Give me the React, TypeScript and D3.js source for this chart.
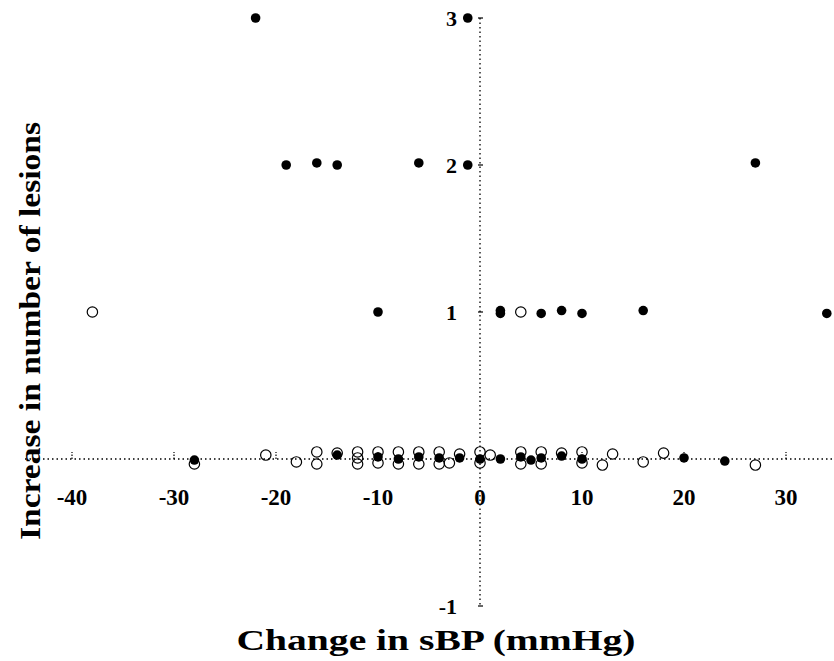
import React from "react";
import * as d3 from "d3";

const filledX = [-22, -1.2, -19, -16, -14, -6, -1.2, 27, -10, 2, 2, 6, 8, 10, 16, 34, -28, -14, -10, -8, -6, -4, -2, 0, 2, 4, 5, 6, 8, 10, 20, 24];
const filledY = [3, 3, 2, 2.014, 2, 2.014, 2, 2.014, 1, 1.01, 0.99, 0.99, 1.01, 0.99, 1.01, 0.99, -0.007, 0.027, 0.014, 0, 0.014, 0.007, 0.007, 0, 0, 0.014, -0.007, 0.007, 0.02, 0, 0.007, -0.014];
const openX = [-38, 4, -28, -21, -18, -16, -16, -14, -12, -12, -12, -10, -10, -8, -8, -6, -6, -4, -4, -3, -2, 0, 0, 1, 4, 4, 6, 6, 8, 10, 10, 12, 13, 16, 18, 27];
const openY = [1, 1, -0.034, 0.027, -0.02, 0.048, -0.034, 0.04, 0.048, 0.007, -0.034, 0.048, -0.027, 0.048, -0.034, 0.048, -0.034, 0.048, -0.034, -0.027, 0.034, 0.048, -0.027, 0.027, 0.048, -0.034, 0.048, -0.034, 0.04, 0.048, -0.027, -0.041, 0.034, -0.02, 0.04, -0.041];
const xTicks = [-40, -30, -20, -10, 0, 10, 20, 30];
const yTicks = [-1, 1, 2, 3];
const xTitle = "Change in sBP (mmHg)";
const yTitle = "Increase in number of lesions";

const W = 834, H = 661;
const FONT = "Liberation Serif";

export default function App() {
  const x = d3.scaleLinear().domain([0, 10]).range([480, 582]);
  const y = d3.scaleLinear().domain([0, 1]).range([459, 312]);
  const xMin = x.invert(25), xMax = x.invert(834);
  const dash = "1.5,3";
  const ts = { fontFamily: FONT, fontWeight: 700 } as React.CSSProperties;
  return (
    <svg width={W} height={H} style={{ position: "absolute", left: 0, top: 0, background: "#fff" }}>
      <rect width={W} height={H} fill="#fff" />
      <line x1={x(xMin)} x2={x(xMax)} y1={y(0)} y2={y(0)} stroke="#000" strokeWidth={1.3} strokeDasharray={dash} />
      <line x1={x(0)} x2={x(0)} y1={y(3)} y2={y(-1)} stroke="#000" strokeWidth={1.3} strokeDasharray={dash} />
      {xTicks.filter(t => t !== 0).map(t => (
        <line key={"xt" + t} x1={x(t)} x2={x(t)} y1={y(0)} y2={y(0) - 7} stroke="#000" strokeWidth={1.2} strokeDasharray="1.5,1.5" />
      ))}
      {yTicks.map(t => (
        <line key={"yt" + t} x1={x(0) - 2} x2={x(0) + 3} y1={y(t)} y2={y(t)} stroke="#000" strokeWidth={1.2} />
      ))}
      {xTicks.map(t => (
        <text key={"xl" + t} x={x(t)} y={505} textAnchor="middle" style={{ ...ts, fontSize: 23 }}>{t}</text>
      ))}
      {yTicks.map(t => (
        <text key={"yl" + t} x={457} y={y(t)} dy="0.35em" textAnchor="end" style={{ ...ts, fontSize: 22 }}>{t}</text>
      ))}
      {filledX.map((v, i) => (
        <circle key={"f" + i} cx={x(v)} cy={y(filledY[i])} r={4.8} fill="#000" />
      ))}
      {openX.map((v, i) => (
        <circle key={"o" + i} cx={x(v)} cy={y(openY[i])} r={5.2} fill="none" stroke="#000" strokeWidth={1.2} />
      ))}
      <text x={436} y={650} textAnchor="middle" style={{ ...ts, fontSize: 30 }} textLength={399} lengthAdjust="spacingAndGlyphs">{xTitle}</text>
      <text transform={`translate(40,331) rotate(-90)`} textAnchor="middle" style={{ ...ts, fontSize: 30 }} textLength={418} lengthAdjust="spacingAndGlyphs">{yTitle}</text>
    </svg>
  );
}
